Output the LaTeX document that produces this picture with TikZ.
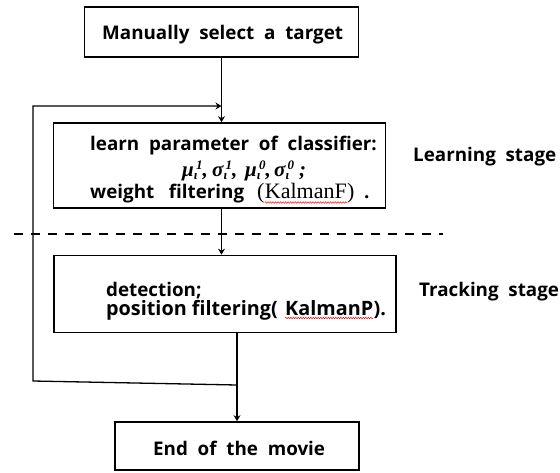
\documentclass[tikz,border=0pt]{standalone}
\usepackage{fontspec}
\setmainfont{Open Sans}
\newfontfamily\serifk{Liberation Serif}
\usetikzlibrary{arrows.meta,decorations.pathmorphing}
\newcommand\gk[1]{{\fontsize{21}{22}\selectfont\serifk\bfseries\itshape #1}}
\newcommand\subsup[3]{\gk{#1}\makebox[0pt][l]{\raisebox{-2.5pt}{\fontsize{13}{13}\selectfont\serifk\bfseries\itshape #2}}\raisebox{7pt}{\fontsize{13}{13}\selectfont\serifk\bfseries\itshape \,#3}}
\newcommand\paramline{\makebox[30pt][l]{\subsup{μ}{ι}{1}\gk{,}}\makebox[33pt][l]{\subsup{σ}{ι}{1}\gk{,}}\makebox[29pt][l]{\subsup{μ}{ι}{0}\gk{,}}\makebox[25pt][l]{\subsup{σ}{ι}{0}}\gk{;}}
\begin{document}
\begin{tikzpicture}[x=1pt,y=-1pt,
  box/.style={draw,line width=1.7pt,inner sep=0pt},
  txt/.style={font=\fontsize{18.8}{21}\selectfont\bfseries,inner sep=0pt,anchor=base west},
  bigtxt/.style={txt,font=\fontsize{19.8}{22}\selectfont\bfseries},
  sertxt/.style={font=\fontsize{22}{24}\selectfont\serifk,inner sep=0pt,anchor=base west},
  arr/.style={-{Stealth[length=6pt,width=7pt,inset=2pt]},line width=1.3pt},
  wave/.style={red,line width=0.5pt,decorate,decoration={snake,amplitude=0.7pt,segment length=2.5pt}}]
\useasboundingbox (0,0) rectangle (560,472);
% boxes
\node[box,minimum width=274pt,minimum height=50pt] (top) at (221.5,32) {};
\node[box,minimum width=332pt,minimum height=85pt] (learn) at (219.5,165.5) {};
\node[box,minimum width=342pt,minimum height=77pt] (track) at (225,294) {};
\node[box,minimum width=244pt,minimum height=48pt] (end) at (237,446) {};
% texts
\node[txt] (t1) at (102,39.5) {Manually\ \ select\ \ a\ \ target};
\node[txt] (l1) at (90,150) {learn\ \ parameter\ \ of\ \ classifier:};
\node[txt] (l2) at (182,176.5) {\paramline};
\node[txt] (l3a) at (90,198.5) {weight\ \ \ filtering};
\node[sertxt] (l3p) at (257,198.5) {(};
\node[sertxt] (kf) at (l3p.base east) {KalmanF};
\node[sertxt] (l3q) at (kf.base east) {)};
\node[txt] (l3b) at (364,198.5) {.};
\node[txt] (d1) at (106,296) {detection;};
\node[bigtxt] (d2a) at (106,315) {position\ filtering(};
\node[bigtxt] (kp) at (285,315) {KalmanP};
\node[bigtxt] (d2b) at (kp.base east) {).};
\node[txt] (e1) at (153,455) {End\ \ of\ \ the\ \ movie};
\node[txt] (ls) at (413,161) {Learning\ \ stage};
\node[txt] (ts) at (419,296) {Tracking\ \ stage};
% spelling underlines
\draw[wave] ([yshift=-4pt]kf.base west) -- ([yshift=-4pt]kf.base east);
\draw[wave] ([yshift=-3pt]kp.base west) -- ([yshift=-3pt]kp.base east);
% divider
\coordinate (dl) at (14,234);
\coordinate (dr) at (443,234);
\draw[line width=1.6pt,dash pattern=on 9pt off 8pt] (dl) -- (dr);
% connectors
\coordinate (lt) at (33,106);
\coordinate (lb) at (33,381);
\coordinate (j) at (237,385);
\draw[arr] (top.south) -- (top.south |- learn.north);
\draw[arr] (j) -- (lb) -- (lt) -- (top.south |- lt);
\draw[arr] (top.south |- learn.south) -- (top.south |- track.north);
\draw[arr] (j |- track.south) -- (end.north);
\end{tikzpicture}
\end{document}
